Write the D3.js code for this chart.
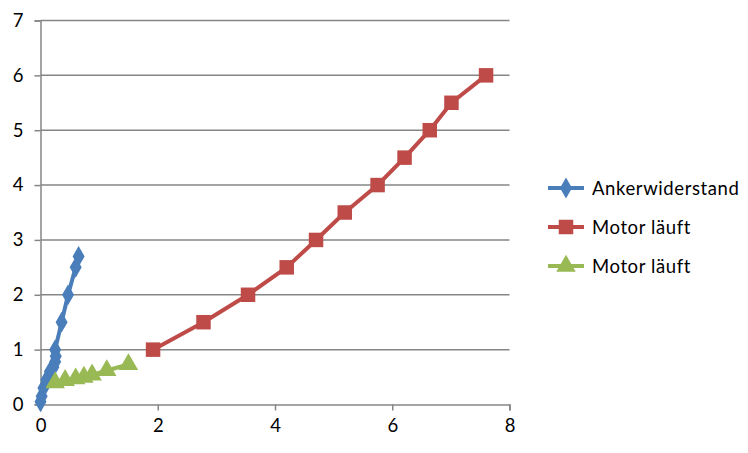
<!DOCTYPE html>
<html><head><meta charset="utf-8">
<script src="https://cdn.jsdelivr.net/npm/d3@7"></script>
<style>body{margin:0;background:#fff}svg{display:block}text{font-family:Lato,"Open Sans",sans-serif}</style>
</head><body><svg id="c" width="748" height="453"></svg>
<script>
const xTicks=[0,2,4,6,8];
const yTicks=[0,1,2,3,4,5,6,7];
const seriesNames=["Ankerwiderstand","Motor läuft","Motor läuft"];
const colors=["#4A7EBB","#BE4B48","#98B954"];
const blueX=[0,0.02,0.05,0.1,0.16,0.22,0.25,0.26,0.25,0.36,0.47,0.6,0.65];
const blueY=[0.05,0.15,0.3,0.45,0.6,0.68,0.78,0.88,1.0,1.5,2.0,2.5,2.7];
const redX=[1.92,2.78,3.54,4.2,4.7,5.19,5.75,6.21,6.64,7.01,7.6];
const redY=[1,1.5,2,2.5,3,3.5,4,4.5,5,5.5,6];
const greenX=[0.25,0.42,0.6,0.74,0.88,1.13,1.5];
const greenY=[0.4,0.44,0.47,0.5,0.54,0.62,0.73];

const svg=d3.select("#c");
const x=d3.scaleLinear().domain([0,8]).range([40.5,509.5]);
const y=d3.scaleLinear().domain([0,7]).range([404.5,20.5]);
const grid="#868686";
const fs=18.5;
svg.append("g").selectAll("line").data(yTicks.filter(d=>d>0)).join("line")
 .attr("x1",x(0)).attr("x2",x(8)).attr("y1",d=>y(d)).attr("y2",d=>y(d))
 .attr("stroke",grid).attr("stroke-width",1.5);
const ya=svg.append("g").attr("transform",`translate(${x(0)},0)`)
 .call(d3.axisLeft(y).tickValues(yTicks).tickSize(6).tickPadding(11).tickFormat(d3.format("d")));
const xa=svg.append("g").attr("transform",`translate(0,${y(0)})`)
 .call(d3.axisBottom(x).tickValues(xTicks).tickSize(6).tickPadding(8).tickFormat(d3.format("d")));
[ya,xa].forEach(a=>{a.select(".domain").attr("stroke",grid).attr("stroke-width",1.5);
 a.selectAll(".tick line").attr("stroke",grid).attr("stroke-width",1.5);
 a.selectAll("text").attr("font-size",fs).attr("fill","#000").attr("font-family","Lato");});

const data=[blueX.map((v,i)=>[v,blueY[i]]),redX.map((v,i)=>[v,redY[i]]),greenX.map((v,i)=>[v,greenY[i]])];
const shapes=[d3.symbolDiamond,d3.symbolSquare,d3.symbolTriangle];
const sizes=[125,210,165];
const line=d3.line().x(d=>x(d[0])).y(d=>y(d[1]));
data.forEach((pts,k)=>{
 const g=svg.append("g");
 g.append("path").attr("d",line(pts)).attr("fill","none").attr("stroke",colors[k]).attr("stroke-width",4).attr("stroke-linejoin","round");
 g.selectAll("path.m").data(pts).join("path").attr("class","m")
  .attr("transform",d=>`translate(${x(d[0])},${y(d[1])})`)
  .attr("d",d3.symbol(shapes[k],sizes[k])).attr("fill",colors[k]);
});
const leg=svg.append("g");
seriesNames.forEach((n,k)=>{
 const cy=188+k*39;
 leg.append("line").attr("x1",548).attr("x2",584).attr("y1",cy).attr("y2",cy).attr("stroke",colors[k]).attr("stroke-width",4);
 leg.append("path").attr("transform",`translate(566,${cy})`).attr("d",d3.symbol(shapes[k],sizes[k])).attr("fill",colors[k]);
 leg.append("text").attr("x",592).attr("y",cy).attr("dy","0.36em").attr("font-size",fs).attr("letter-spacing","0.6px").text(n);
});
</script></body></html>
